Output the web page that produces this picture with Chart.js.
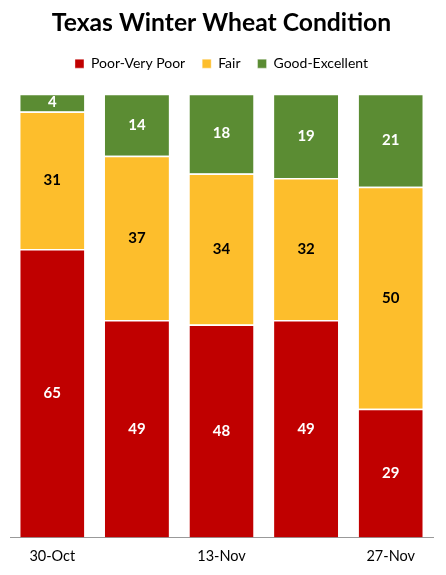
<!DOCTYPE html>
<html>
<head>
<meta charset="utf-8">
<script src="https://cdn.jsdelivr.net/npm/chart.js@4/dist/chart.umd.min.js"></script>
<style>
html,body{margin:0;padding:0;background:#fff;}
#wrap{width:446px;height:575px;}
</style>
</head>
<body>
<div id="wrap"><canvas id="c" width="446" height="575"></canvas></div>
<script>
const categories = ["30-Oct", "6-Nov", "13-Nov", "20-Nov", "27-Nov"];
const poorVeryPoor = [65, 49, 48, 49, 29];
const fair = [31, 37, 34, 32, 50];
const goodExcellent = [4, 14, 18, 19, 21];
const seriesNames = ["Poor-Very Poor", "Fair", "Good-Excellent"];

const colors = ["#C00000", "#FDBE2C", "#5B8C33"];
const labelColors = ["#FFFFFF", "#000000", "#FFFFFF"];

const labelPlugin = {
  id: 'segLabels',
  afterDatasetsDraw(chart) {
    const ctx = chart.ctx;
    ctx.save();
    ctx.font = 'bold 15px Lato, "Open Sans", sans-serif';
    ctx.textAlign = 'center';
    ctx.textBaseline = 'middle';
    chart.data.datasets.forEach((ds, di) => {
      const meta = chart.getDatasetMeta(di);
      meta.data.forEach((el, i) => {
        const p = el.getProps(['x', 'y', 'base'], true);
        ctx.fillStyle = labelColors[di];
        ctx.fillText(String(ds.data[i]), p.x, (p.y + p.base) / 2);
      });
    });
    ctx.restore();
  }
};

const legendSpace = {
  id: 'legendSpace',
  beforeInit(chart) {
    const orig = chart.legend.fit;
    chart.legend.fit = function() {
      orig.bind(chart.legend)();
      this.height += 13;
    };
  }
};

const mk = (name, data, i) => ({
  label: name,
  data: data,
  backgroundColor: colors[i],
  borderColor: '#FFFFFF',
  borderWidth: {top: 1.5, bottom: 0, left: 0, right: 0},
  borderSkipped: false,
  categoryPercentage: 1.0,
  barPercentage: 0.757
});

new Chart(document.getElementById('c'), {
  type: 'bar',
  data: {
    labels: categories,
    datasets: [
      mk(seriesNames[0], poorVeryPoor, 0),
      mk(seriesNames[1], fair, 1),
      mk(seriesNames[2], goodExcellent, 2)
    ]
  },
  options: {
    responsive: false,
    animation: false,
    layout: {padding: {left: 10, right: 13, top: 8, bottom: 0}},
    plugins: {
      title: {
        display: true,
        text: 'Texas Winter Wheat Condition',
        color: '#000',
        font: {family: 'Lato, "Open Sans", sans-serif', size: 24.7, weight: 'bold'},
        padding: {top: 0, bottom: 2}
      },
      legend: {
        display: true,
        labels: {
          color: '#000',
          font: {family: 'Lato, "Open Sans", sans-serif', size: 14},
          boxWidth: 9, boxHeight: 9, padding: 17
        }
      },
      tooltip: {enabled: false}
    },
    scales: {
      x: {
        stacked: true,
        grid: {display: false, drawTicks: false},
        border: {display: true, color: '#999', width: 1},
        ticks: {
          autoSkip: false, maxRotation: 0, color: '#000', padding: 10,
          font: {family: 'Lato, "Open Sans", sans-serif', size: 14.5},
          callback: function(v, i) { return i % 2 === 0 ? categories[i] : ''; }
        }
      },
      y: {
        stacked: true, min: 0, max: 100, display: false
      }
    }
  },
  plugins: [labelPlugin, legendSpace]
});
</script>
</body>
</html>
